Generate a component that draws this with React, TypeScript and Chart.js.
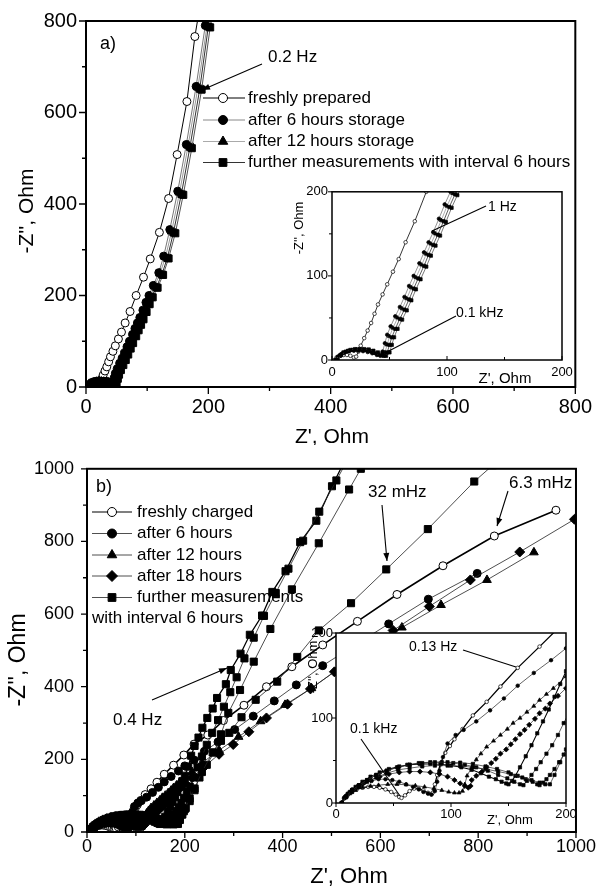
import React, { useEffect, useRef } from 'react';
import { Chart, registerables } from 'chart.js';
Chart.register(...registerables);

const FONT = '"Liberation Sans", Arial, Helvetica, sans-serif';
Chart.defaults.font.family = FONT;

// ---------------- Panel a) data ----------------
const aTicks = [0, 200, 400, 600, 800];
const aInsetTicks = [0, 100, 200];
const aFreshX = [2, 4, 7, 10, 13, 16, 19, 21, 23, 25, 28, 31, 34, 37, 40, 44, 48, 53, 58, 64, 72, 82, 94, 105, 120, 135, 149, 165, 178, 186];
const aFreshY = [0, 3, 5, 6, 6, 5, 3, 4, 10, 17, 26, 35, 44, 55, 66, 78, 90, 105, 120, 140, 165, 200, 240, 280, 338, 412, 508, 624, 766, 830];
const a6hX = [3, 5, 8, 11, 15, 19, 23, 27, 31, 35, 39, 42, 44, 46, 48, 51, 55, 59, 63, 67, 71, 76, 80, 84, 88, 93, 98, 103, 110, 119, 127, 137, 150, 164, 180, 195];
const a6hY = [0, 4, 7, 9, 10.5, 11, 11, 10.5, 9.5, 8, 6, 5, 10, 20, 30, 40, 52, 63, 75, 88, 100, 115, 128, 140, 152, 168, 185, 200, 222, 250, 286, 344, 428, 530, 657, 790];
const a12hX = [3, 6, 9, 13, 17, 21, 25, 29, 33, 37, 41, 44, 46, 48, 50, 53, 57, 61, 65, 69, 73, 78, 82, 86, 90, 95, 100, 105, 112, 121, 130, 140, 153, 167, 183, 198];
const a12hY = [0, 5, 8, 10, 11.5, 12, 12, 11.5, 10, 8, 6, 5, 9, 18, 28, 38, 50, 61, 73, 86, 98, 113, 126, 138, 150, 166, 183, 198, 220, 248, 284, 340, 425, 528, 655, 790];
const aSq1X = [4, 7, 10, 14, 18, 22, 26, 30, 34, 38, 42, 45, 48, 50, 52, 55, 59, 63, 67, 71, 75, 80, 84, 88, 92, 97, 102, 107, 115, 124, 133, 143, 156, 170, 186, 200];
const aSq1Y = [0, 5, 9, 11, 12, 12.5, 12.5, 12, 10.5, 8.5, 6.5, 5, 9, 18, 27, 37, 49, 60, 72, 85, 97, 112, 125, 137, 149, 165, 182, 197, 218, 246, 282, 338, 422, 525, 652, 788];
const aSq2X = [5, 8, 12, 16, 20, 24, 28, 32, 36, 40, 44, 47, 50, 52, 54, 57, 61, 65, 69, 73, 77, 82, 86, 90, 94, 99, 104, 109, 117, 126, 135, 146, 159, 173, 189, 203];
const aSq2Y = [0, 6, 10, 12, 13, 13, 13, 12.5, 11, 9, 7, 5, 9, 18, 27, 37, 48, 59, 71, 84, 96, 111, 124, 136, 148, 164, 181, 196, 217, 245, 281, 336, 420, 522, 650, 786];

// ---------------- Panel b) data ----------------
const bTicks = [0, 200, 400, 600, 800, 1000];
const bInsetTicks = [0, 100, 200];
const bFreshX = [5, 7, 10, 14, 18, 23, 28, 33, 38, 43, 48, 52, 55, 57, 60, 64, 68, 72, 76, 80, 83, 84, 86, 88, 91, 95, 99, 103, 110, 119, 131, 143, 158, 177, 198, 219, 247, 279, 321, 367, 419, 482, 553, 634, 728, 833, 959];
const bFreshY = [0, 5, 9, 13, 16, 18, 19, 19, 18, 16, 13, 10, 7, 6, 9, 14, 17, 17, 15, 12, 10, 12, 22, 33, 47, 59, 67, 75, 87, 103, 119, 137, 159, 184, 212, 242, 267, 307, 349, 400, 455, 515, 580, 654, 733, 815, 886];
const b6hX = [5, 7, 10, 14, 19, 25, 31, 37, 43, 49, 55, 61, 67, 72, 76, 80, 83, 86, 88, 90, 93, 97, 104, 111, 122, 134, 146, 158, 172, 187, 200, 219, 240, 268, 302, 340, 383, 428, 482, 545, 617, 698, 798];
const b6hY = [0, 6, 11, 16, 20, 24, 26, 28, 28, 27, 25, 22, 19, 16, 13, 11, 10, 14, 25, 38, 54, 70, 80, 86, 96, 109, 123, 138, 153, 168, 182, 198, 222, 248, 282, 319, 361, 405, 458, 512, 573, 641, 712];
const b12hX = [5, 8, 12, 17, 23, 30, 37, 45, 53, 61, 69, 77, 85, 92, 98, 103, 107, 110, 112, 114, 118, 122, 126, 131, 137, 143, 149, 154, 160, 166, 172, 177, 183, 189, 200, 215, 235, 270, 310, 355, 405, 459, 513, 575, 644, 724, 818, 914];
const b12hY = [0, 6, 11, 15, 18, 20, 21, 22, 22, 21.5, 20.5, 19, 17, 15, 13, 12, 12, 14, 22, 32, 42, 51, 58, 66, 73, 80, 87, 94, 100, 107, 114, 121, 128, 135, 149, 165, 190, 225, 262, 305, 350, 396, 448, 505, 563, 625, 694, 770];
const b18hX = [5, 8, 12, 17, 23, 30, 38, 46, 55, 64, 73, 82, 90, 97, 103, 108, 112, 115, 117, 118, 122, 127, 131, 135, 139, 143, 148, 152, 156, 160, 164, 168, 173, 177, 182, 186, 193, 200, 215, 240, 270, 299, 331, 367, 410, 457, 506, 562, 626, 700, 784, 885, 997];
const b18hY = [0, 7, 12, 17, 22, 27, 31, 34, 36, 37, 37, 36, 34, 31, 27, 23, 20, 18, 20, 27, 32, 37, 42, 47, 52, 58, 63, 69, 75, 81, 86, 92, 99, 105.5, 111, 117, 126, 135, 150, 180, 214, 241, 276, 314, 352, 394, 441, 499, 555, 621, 694, 771, 861];
const bSqAX = [5, 8, 12, 17, 23, 30, 38, 46, 55, 64, 73, 82, 91, 100, 109, 118, 126, 133, 139, 144, 148, 150, 153, 156, 160, 165, 170, 175, 180, 185, 190, 195, 200, 207, 213, 220, 228, 236, 246, 257, 266, 284, 294, 314, 333, 358, 379, 406, 436, 469, 501, 530];
const bSqAY = [0, 7, 13, 19, 25, 31, 36, 40, 43, 45, 46, 46, 45.5, 44, 42, 39, 35, 31, 28, 25, 23, 22, 26, 32, 42, 55, 68, 82, 96, 110, 125, 140, 155, 180, 210, 237, 260, 287, 314, 340, 369, 407, 446, 491, 543, 596, 661, 718, 798, 857, 952, 1030];
const bSqA2X = [5, 9, 14, 20, 27, 35, 44, 53, 62, 72, 82, 92, 102, 112, 122, 132, 141, 149, 155, 160, 163, 166, 170, 174, 178, 183, 188, 193, 198, 204, 210, 218, 226, 235, 245, 256, 268, 280, 293, 306, 322, 341, 362, 386, 412, 442, 475, 510, 535];
const bSqA2Y = [0, 8, 15, 21, 27, 33, 38, 42, 45, 47, 48, 48, 47, 45, 42, 38, 33, 29, 25, 22, 21, 26, 33, 40, 48, 58, 68, 80, 94, 110, 125, 150, 178, 208, 240, 273, 308, 345, 385, 426, 478, 535, 595, 658, 725, 802, 882, 968, 1030];
const bSqBX = [5, 9, 14, 20, 27, 35, 44, 54, 64, 75, 86, 97, 108, 119, 130, 140, 150, 158, 165, 171, 175, 177, 180, 183, 186, 190, 194, 198, 202, 210, 220, 230, 245, 260, 274, 289, 313, 341, 375, 419, 474, 536, 560];
const bSqBY = [0, 8, 15, 21, 27, 33, 38, 42, 45, 47, 48, 48, 47.5, 46, 43, 40, 36, 32, 28, 25, 22, 21, 24, 28, 33, 40, 48, 57, 66, 85, 115, 150, 185, 219, 269, 328, 391, 469, 559, 668, 795, 943, 1000];
const bSqCX = [5, 9, 14, 20, 27, 35, 44, 54, 64, 75, 86, 97, 108, 119, 130, 141, 152, 162, 170, 177, 182, 186, 190, 195, 200, 210, 220, 235, 257, 274, 291, 316, 345, 389, 430, 474, 540, 612, 697, 792, 830];
const bSqCY = [0, 7, 13, 19, 25, 30, 35, 39, 41, 43, 44, 44, 43.5, 42, 40, 37, 34, 30, 27, 24, 22, 22, 33, 48, 63, 92, 120, 165, 219, 251, 273, 316, 364, 414, 482, 555, 630, 723, 834, 965, 1010];

// ---------------- helpers ----------------
type Shape = 'circle' | 'triangle' | 'rect' | 'rectRot';
interface Ser { xs: number[]; ys: number[]; shape: Shape; open?: boolean; color: string; lw: number; r: number; }

function mkDs(s: Ser, inset: boolean) {
  const rIn = s.shape === 'circle' ? 1.8 : s.shape === 'rectRot' ? 2.6 : 2.3;
  return {
    data: s.xs.map((x, i) => ({ x, y: s.ys[i] })),
    showLine: true,
    borderColor: s.color,
    borderWidth: inset ? Math.max(0.7, s.lw * 0.8) : s.lw,
    pointStyle: s.shape,
    pointRadius: inset ? rIn : s.r,
    pointHoverRadius: inset ? rIn : s.r,
    pointBackgroundColor: s.open ? '#fff' : '#000',
    pointBorderColor: '#000',
    pointBorderWidth: inset ? 0.7 : 1,
    tension: 0,
    fill: false,
  };
}

function drawMarker(ctx: CanvasRenderingContext2D, shape: Shape, x: number, y: number, r: number, open: boolean) {
  ctx.beginPath();
  if (shape === 'circle') ctx.arc(x, y, r, 0, Math.PI * 2);
  else if (shape === 'triangle') {
    ctx.moveTo(x, y - r);
    ctx.lineTo(x + r * 0.866, y + r * 0.5);
    ctx.lineTo(x - r * 0.866, y + r * 0.5);
    ctx.closePath();
  } else if (shape === 'rect') {
    const s = r * Math.SQRT1_2;
    ctx.rect(x - s, y - s, 2 * s, 2 * s);
  } else {
    ctx.moveTo(x - r, y); ctx.lineTo(x, y - r); ctx.lineTo(x + r, y); ctx.lineTo(x, y + r); ctx.closePath();
  }
  ctx.fillStyle = open ? '#fff' : '#000';
  ctx.fill();
  ctx.lineWidth = 1;
  ctx.strokeStyle = '#000';
  ctx.stroke();
}

interface TextItem { t: string; x: number; y: number; size: number; align?: CanvasTextAlign; rot?: boolean; }
interface LineItem { x1: number; y1: number; x2: number; y2: number; arrow?: boolean; }
interface LegItem { t: string; y: number; shape: Shape; open?: boolean; color: string; lw: number; r: number; }
interface Legend { x1: number; x2: number; cx: number; tx: number; size: number; items: LegItem[]; extra?: TextItem; }

interface Spec {
  left: number; top: number; width: number; height: number;
  area: { l: number; t: number; r: number; b: number };
  xMax: number; yMax: number; xTicks: number[]; yTicks: number[];
  tickSize: number; xPad: number; yPad: number;
  inset: boolean; frameLw: number; majorLen: number; minorLen: number; xDir: number; yDir: number;
  series: Ser[]; texts: TextItem[]; lines: LineItem[]; legend?: Legend;
}

function makeConfig(sp: Spec): any {
  const offX = sp.left, offY = sp.top;
  const plugin = {
    id: 'overlay',
    beforeDatasetsDraw(chart: any) {
      if (!sp.inset) return;
      const { ctx, chartArea: a } = chart;
      ctx.save();
      ctx.fillStyle = '#fff';
      ctx.fillRect(a.left, a.top, a.right - a.left, a.bottom - a.top);
      ctx.restore();
    },
    afterDraw(chart: any) {
      const { ctx, chartArea: a, scales } = chart;
      const xs = scales.x, ys = scales.y;
      ctx.save();
      // ticks
      const mids = (arr: number[]) => arr.slice(1).map((v, i) => (v + arr[i]) / 2);
      ctx.strokeStyle = '#000';
      ctx.lineWidth = sp.inset ? 1 : 1.3;
      ctx.beginPath();
      const tx = (vals: number[], len: number) => vals.forEach(v => { const p = xs.getPixelForValue(v); ctx.moveTo(p, a.bottom); ctx.lineTo(p, a.bottom + len * sp.xDir); });
      const ty = (vals: number[], len: number) => vals.forEach(v => { const p = ys.getPixelForValue(v); ctx.moveTo(a.left, p); ctx.lineTo(a.left - len * sp.yDir, p); });
      tx(sp.xTicks, sp.majorLen); tx(mids(sp.xTicks), sp.minorLen);
      ty(sp.yTicks, sp.majorLen); ty(mids(sp.yTicks), sp.minorLen);
      ctx.stroke();
      // frame
      ctx.lineWidth = sp.frameLw;
      ctx.strokeRect(a.left, a.top, a.right - a.left, a.bottom - a.top);
      // lines / arrows
      ctx.lineWidth = 1.1;
      sp.lines.forEach(l => {
        const x1 = l.x1 - offX, y1 = l.y1 - offY, x2 = l.x2 - offX, y2 = l.y2 - offY;
        ctx.beginPath(); ctx.moveTo(x1, y1); ctx.lineTo(x2, y2); ctx.stroke();
        if (l.arrow) {
          const ang = Math.atan2(y2 - y1, x2 - x1);
          const L = 8, W = 3;
          ctx.beginPath();
          ctx.moveTo(x2, y2);
          ctx.lineTo(x2 - L * Math.cos(ang) + W * Math.sin(ang), y2 - L * Math.sin(ang) - W * Math.cos(ang));
          ctx.lineTo(x2 - L * Math.cos(ang) - W * Math.sin(ang), y2 - L * Math.sin(ang) + W * Math.cos(ang));
          ctx.closePath(); ctx.fillStyle = '#000'; ctx.fill();
        }
      });
      // texts
      ctx.fillStyle = '#000';
      ctx.textBaseline = 'middle';
      const drawText = (t: TextItem) => {
        ctx.font = `${t.size}px ${FONT}`;
        ctx.textAlign = t.align || 'left';
        if (t.rot) {
          ctx.save(); ctx.translate(t.x - offX, t.y - offY); ctx.rotate(-Math.PI / 2);
          ctx.fillText(t.t, 0, 0); ctx.restore();
        } else ctx.fillText(t.t, t.x - offX, t.y - offY);
      };
      sp.texts.forEach(drawText);
      // legend
      if (sp.legend) {
        const lg = sp.legend;
        lg.items.forEach(it => {
          const y = it.y - offY;
          ctx.strokeStyle = it.color; ctx.lineWidth = it.lw;
          ctx.beginPath(); ctx.moveTo(lg.x1 - offX, y); ctx.lineTo(lg.x2 - offX, y); ctx.stroke();
          drawMarker(ctx, it.shape, lg.cx - offX, y, it.r, !!it.open);
          ctx.fillStyle = '#000';
          ctx.font = `${lg.size}px ${FONT}`; ctx.textAlign = 'left'; ctx.textBaseline = 'middle';
          ctx.fillText(it.t, lg.tx - offX, y);
        });
        if (lg.extra) drawText(lg.extra);
      }
      ctx.restore();
    },
  };
  const a = sp.area;
  const order = [...sp.series].reverse();
  return {
    type: 'scatter',
    data: { datasets: order.map(s => mkDs(s, sp.inset)) },
    options: {
      animation: false,
      responsive: true,
      maintainAspectRatio: false,
      events: [],
      layout: { padding: { left: 0, top: a.t - offY, right: offX + sp.width - a.r, bottom: 0 } },
      plugins: { legend: { display: false }, tooltip: { enabled: false }, title: { display: false } },
      scales: {
        x: {
          type: 'linear', min: 0, max: sp.xMax,
          afterBuildTicks: (s: any) => { s.ticks = sp.xTicks.map(v => ({ value: v })); },
          afterFit: (s: any) => { s.height = offY + sp.height - a.b; },
          ticks: { color: '#000', font: { size: sp.tickSize, family: FONT }, padding: sp.xPad, maxRotation: 0, autoSkip: false, callback: (v: any) => String(v) },
          grid: { display: false, drawTicks: false },
          border: { display: false },
        },
        y: {
          type: 'linear', min: 0, max: sp.yMax,
          afterBuildTicks: (s: any) => { s.ticks = sp.yTicks.map(v => ({ value: v })); },
          afterFit: (s: any) => { s.width = a.l - offX; },
          ticks: { color: '#000', font: { size: sp.tickSize, family: FONT }, padding: sp.yPad, autoSkip: false, callback: (v: any) => String(v) },
          grid: { display: false, drawTicks: false },
          border: { display: false },
        },
      },
    },
    plugins: [plugin],
  };
}

function ChartBox({ spec }: { spec: Spec }) {
  const ref = useRef<HTMLCanvasElement>(null);
  useEffect(() => {
    const chart = new Chart(ref.current as HTMLCanvasElement, makeConfig(spec));
    return () => chart.destroy();
  }, []);
  return (
    <div style={{ position: 'absolute', left: spec.left, top: spec.top, width: spec.width, height: spec.height }}>
      <canvas ref={ref} />
    </div>
  );
}

// ---------------- series styles ----------------
const aSeries: Ser[] = [
  { xs: aFreshX, ys: aFreshY, shape: 'circle', open: true, color: '#000', lw: 1, r: 4 },
  { xs: a6hX, ys: a6hY, shape: 'circle', color: '#777', lw: 1, r: 4 },
  { xs: a12hX, ys: a12hY, shape: 'triangle', color: '#999', lw: 1, r: 5 },
  { xs: aSq1X, ys: aSq1Y, shape: 'rect', color: '#333', lw: 1, r: 5 },
  { xs: aSq2X, ys: aSq2Y, shape: 'rect', color: '#555', lw: 1, r: 5 },
];
const bSeries: Ser[] = [
  { xs: bFreshX, ys: bFreshY, shape: 'circle', open: true, color: '#000', lw: 1.6, r: 4 },
  { xs: b6hX, ys: b6hY, shape: 'circle', color: '#222', lw: 0.8, r: 4 },
  { xs: b12hX, ys: b12hY, shape: 'triangle', color: '#222', lw: 0.8, r: 5 },
  { xs: b18hX, ys: b18hY, shape: 'rectRot', color: '#222', lw: 0.8, r: 5 },
  { xs: bSqAX, ys: bSqAY, shape: 'rect', color: '#000', lw: 1.3, r: 5 },
  { xs: bSqA2X, ys: bSqA2Y, shape: 'rect', color: '#222', lw: 0.8, r: 5 },
  { xs: bSqBX, ys: bSqBY, shape: 'rect', color: '#222', lw: 0.8, r: 5 },
  { xs: bSqCX, ys: bSqCY, shape: 'rect', color: '#222', lw: 0.8, r: 5 },
];

const specAMain: Spec = {
  left: 0, top: 0, width: 600, height: 445,
  area: { l: 86, t: 21, r: 578, b: 387 },
  xMax: 800, yMax: 800, xTicks: aTicks, yTicks: aTicks,
  tickSize: 20, xPad: 8, yPad: 9,
  inset: false, frameLw: 2, majorLen: 7, minorLen: 4, xDir: 1, yDir: 1,
  series: aSeries,
  texts: [
    { t: "Z', Ohm", x: 332, y: 437, size: 21, align: 'center' },
    { t: "-Z'', Ohm", x: 27, y: 211, size: 21, align: 'center', rot: true },
    { t: 'a)', x: 100, y: 44, size: 18 },
    { t: '0.2 Hz', x: 268, y: 57, size: 17 },
  ],
  lines: [{ x1: 262, y1: 64, x2: 202, y2: 90, arrow: true }],
  legend: {
    x1: 203, x2: 245, cx: 223, tx: 248, size: 17,
    items: [
      { t: 'freshly prepared', y: 98, shape: 'circle', open: true, color: '#000', lw: 1, r: 4.5 },
      { t: 'after 6 hours storage', y: 120, shape: 'circle', color: '#888', lw: 1, r: 4.5 },
      { t: 'after 12 hours storage', y: 141.5, shape: 'triangle', color: '#aaa', lw: 1, r: 5.5 },
      { t: 'further measurements with interval 6 hours', y: 162.5, shape: 'rect', color: '#333', lw: 1, r: 5.5 },
    ],
  },
};

const specAInset: Spec = {
  left: 290, top: 180, width: 300, height: 215,
  area: { l: 332, t: 190, r: 562, b: 360 },
  xMax: 200, yMax: 200, xTicks: aInsetTicks, yTicks: aInsetTicks,
  tickSize: 13, xPad: 5, yPad: 4,
  inset: true, frameLw: 1.5, majorLen: 4, minorLen: 3, xDir: -1, yDir: 1,
  series: aSeries,
  texts: [
    { t: "Z', Ohm", x: 505, y: 379, size: 15, align: 'center' },
    { t: "-Z'', Ohm", x: 299, y: 228, size: 13, align: 'center', rot: true },
    { t: '1 Hz', x: 488, y: 207, size: 14 },
    { t: '0.1 kHz', x: 456, y: 313, size: 14 },
  ],
  lines: [
    { x1: 486, y1: 206, x2: 432, y2: 231 },
    { x1: 456, y1: 316, x2: 385, y2: 353 },
  ],
};

const specBMain: Spec = {
  left: 0, top: 445, width: 600, height: 443,
  area: { l: 87, t: 465, r: 579, b: 832 },
  xMax: 1000, yMax: 1000, xTicks: bTicks, yTicks: bTicks,
  tickSize: 18, xPad: 4, yPad: 13,
  inset: false, frameLw: 2, majorLen: 6, minorLen: 4, xDir: 1, yDir: 1,
  series: bSeries,
  texts: [
    { t: "Z', Ohm", x: 349, y: 877, size: 22, align: 'center' },
    { t: "-Z'', Ohm", x: 19, y: 660, size: 23, align: 'center', rot: true },
    { t: 'b)', x: 96, y: 487, size: 18 },
    { t: '32 mHz', x: 368, y: 492, size: 17 },
    { t: '6.3 mHz', x: 509, y: 483, size: 17 },
    { t: '0.4 Hz', x: 113, y: 720, size: 17 },
  ],
  lines: [
    { x1: 382, y1: 505, x2: 387, y2: 561, arrow: true },
    { x1: 508, y1: 491, x2: 497, y2: 526, arrow: true },
    { x1: 152, y1: 700, x2: 227, y2: 668, arrow: true },
  ],
  legend: {
    x1: 92, x2: 132, cx: 112, tx: 137, size: 17,
    items: [
      { t: 'freshly charged', y: 512, shape: 'circle', open: true, color: '#000', lw: 1.2, r: 4.5 },
      { t: 'after 6 hours', y: 533.5, shape: 'circle', color: '#222', lw: 0.8, r: 4.5 },
      { t: 'after 12 hours', y: 555, shape: 'triangle', color: '#222', lw: 0.8, r: 5.5 },
      { t: 'after 18 hours', y: 576, shape: 'rectRot', color: '#222', lw: 0.8, r: 5.5 },
      { t: 'further measurements', y: 597.5, shape: 'rect', color: '#222', lw: 0.8, r: 5.5 },
    ],
    extra: { t: 'with interval 6 hours', x: 92, y: 618.5, size: 17 },
  },
};

const specBInset: Spec = {
  left: 290, top: 620, width: 300, height: 215,
  area: { l: 336, t: 633, r: 566, b: 803 },
  xMax: 200, yMax: 200, xTicks: bInsetTicks, yTicks: bInsetTicks,
  tickSize: 13, xPad: 4, yPad: 3,
  inset: true, frameLw: 1.5, majorLen: 4, minorLen: 3, xDir: 1, yDir: 1,
  series: bSeries,
  texts: [
    { t: "Z', Ohm", x: 510, y: 820, size: 13, align: 'center' },
    { t: "-Z'', Ohm", x: 313, y: 667, size: 13, align: 'center', rot: true },
    { t: '0.13 Hz', x: 409, y: 647, size: 14 },
    { t: '0.1 kHz', x: 350, y: 729, size: 14 },
  ],
  lines: [
    { x1: 463, y1: 650, x2: 516, y2: 667 },
    { x1: 361, y1: 739, x2: 400, y2: 796 },
  ],
};

export default function App() {
  return (
    <div style={{ position: 'absolute', left: 0, top: 0, width: 600, height: 888, background: '#fff', overflow: 'hidden' }}>
      <ChartBox spec={specAMain} />
      <ChartBox spec={specAInset} />
      <ChartBox spec={specBMain} />
      <ChartBox spec={specBInset} />
    </div>
  );
}
